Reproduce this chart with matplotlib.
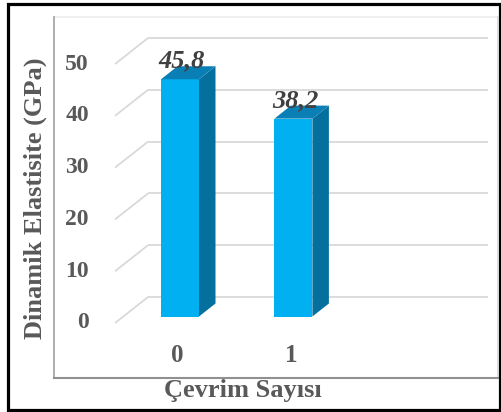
import matplotlib
matplotlib.use("Agg")
import matplotlib.pyplot as plt
from matplotlib.patches import Polygon, Rectangle

# Data
categories = ["0", "1"]
values = [45.8, 38.2]
value_labels = ["45,8", "38,2"]
y_ticks = [0, 10, 20, 30, 40, 50]
x_title = "Çevrim Sayısı"
y_title = "Dinamik Elastisite (GPa)"

# Figure geometry (pixels)
W, H, DPI = 502, 412, 100
PX_PER_CAT = 113.4
X0_PX = 171.75          # category 0 centre on the front edge of the floor
PX_PER_UNIT = 5.18
Y0_PX = 323.0           # value 0 on the front edge (measured from top)
DEPTH_X_PX, DEPTH_Y_PX = 33.0, 26.0
N_SLOTS = 3

DX = DEPTH_X_PX / PX_PER_CAT       # depth offset in category units
DY = DEPTH_Y_PX / PX_PER_UNIT      # depth offset in value units
BAR_W = 0.335
BAR_FRONT, BAR_BACK = 0.25, 0.75   # fraction of floor depth

FRONT_C = "#00B0F0"
TOP_C = "#0A7FB6"
SIDE_C = "#05709E"
GRID_C = "#D9D9D9"
TEXT_C = "#595959"
LABEL_C = "#404040"
SERIF = ["Liberation Serif", "DejaVu Serif"]

fig = plt.figure(figsize=(W / DPI, H / DPI), dpi=DPI)
ax = fig.add_axes([0, 0, 1, 1])
ax.set_xlim(-X0_PX / PX_PER_CAT, (W - X0_PX) / PX_PER_CAT)
ax.set_ylim((Y0_PX - H) / PX_PER_UNIT, Y0_PX / PX_PER_UNIT)
ax.axis("off")


def fig_px(x, y):
    return x / W, 1 - y / H


# chart area frame
x0, y0 = fig_px(54, 378)
x1, y1 = fig_px(498, 17)
fig.add_artist(plt.Line2D([x0, x1], [y1, y1], color="#ECECEC", lw=1.2, transform=fig.transFigure))
fig.add_artist(plt.Line2D([x1, x1], [y0, y1], color="#D4D4D4", lw=1.2, transform=fig.transFigure))
fig.add_artist(plt.Line2D([x0, x0], [y0, y1], color="#A0A0A0", lw=1.2, transform=fig.transFigure))
fig.add_artist(plt.Line2D([x0, x1], [y0, y0], color="#909090", lw=1.5, transform=fig.transFigure))

# outer black border
bx0, by0 = fig_px(8.5, 410)
bx1, by1 = fig_px(500.5, 3.5)
fig.add_artist(Rectangle((bx0, by0), bx1 - bx0, by1 - by0, fill=False,
                         edgecolor="black", lw=2.3, transform=fig.transFigure))

# gridlines: side diagonals and back wall
left, right = -0.5, N_SLOTS - 0.5
for t in y_ticks:
    ax.plot([left, left + DX], [t, t + DY], color=GRID_C, lw=1.3, solid_capstyle="butt")
    ax.plot([left + DX, right + DX], [t + DY, t + DY], color=GRID_C, lw=1.3,
            solid_capstyle="butt")

# bars
xs = list(range(len(categories)))
fx = [x + BAR_FRONT * DX for x in xs]
fb = BAR_FRONT * DY
ax.bar(fx, values, width=BAR_W, bottom=fb, color=FRONT_C, zorder=3)
d = (BAR_BACK - BAR_FRONT)
for x, v in zip(fx, values):
    xl, xr = x - BAR_W / 2, x + BAR_W / 2
    top = fb + v
    ax.add_patch(Polygon([(xr, fb), (xr + d * DX, fb + d * DY),
                          (xr + d * DX, top + d * DY), (xr, top)],
                         closed=True, facecolor=SIDE_C, edgecolor="none", zorder=3))
    ax.add_patch(Polygon([(xl, top), (xr, top), (xr + d * DX, top + d * DY),
                          (xl + d * DX, top + d * DY)],
                         closed=True, facecolor=TOP_C, edgecolor="none", zorder=3))

# value labels
for x, v, s in zip(xs, values, value_labels):
    ax.text(x + 0.3 * DX, v + BAR_BACK * DY - 0.3, s, ha="center", va="baseline",
            fontsize=19, fontweight="bold", fontstyle="italic", color=LABEL_C,
            family=SERIF, zorder=4)

# y tick labels
for t in y_ticks:
    ax.text((89 - X0_PX) / PX_PER_CAT, t, str(t), ha="right", va="center",
            fontsize=17, fontweight="bold", color=TEXT_C, family=SERIF)

# x tick labels
for x, c in zip(xs, categories):
    ax.text(x + 0.05, (Y0_PX - 356) / PX_PER_UNIT, c, ha="center", va="center",
            fontsize=18, fontweight="bold", color=TEXT_C, family=SERIF)

# axis titles
fig.text(35 / W, 1 - 198 / H, y_title, rotation=90, ha="center", va="center",
         fontsize=19, fontweight="bold", color=TEXT_C, family=SERIF)
fig.text(242.5 / W, 1 - 390 / H, x_title, ha="center", va="center",
         fontsize=19, fontweight="bold", color=TEXT_C, family=SERIF)

fig.savefig("out.png", dpi=DPI)
